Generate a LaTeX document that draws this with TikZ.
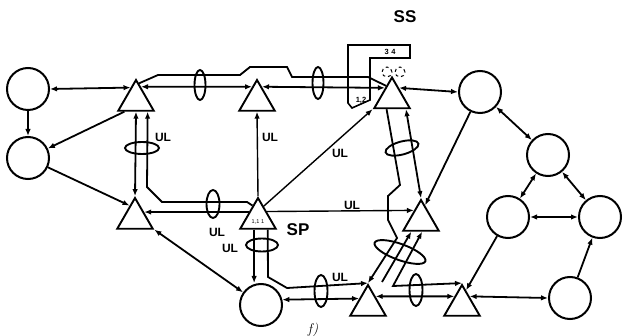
\documentclass[tikz,border=0pt]{standalone}
\usepackage{fontspec}
\setsansfont{Liberation Sans}
\usetikzlibrary{arrows.meta,calc,shapes.geometric}

\begin{document}
\begin{tikzpicture}[
    x=1pt, y=-1pt,
    >={Latex[length=7pt, width=5.5pt]},
    stn/.style={draw, circle, line width=2pt, minimum size=42pt, inner sep=0pt},
    sw/.style={draw, regular polygon, regular polygon sides=3, line width=1.9pt,
               minimum size=41pt, inner sep=0pt},
    ring/.style={draw, ellipse, line width=1.9pt, inner sep=0pt},
    ln/.style={line width=1.8pt},
    ul/.style={line width=1.4pt},
    lbl/.style={font=\sffamily\bfseries\fontsize{12}{12}\selectfont, inner sep=1pt},
    tag/.style={font=\sffamily\bfseries\fontsize{17}{17}\selectfont, inner sep=1pt},
    sml/.style={font=\sffamily\bfseries\fontsize{7.5}{7.5}\selectfont, inner sep=0pt}
  ]
  \useasboundingbox (0,0) rectangle (623,336);

  % --- Stations (circles) ---
  \node[stn] (c1) at (28,89) {};
  \node[stn] (c2) at (28,158) {};
  \node[stn] (c3) at (480,92) {};
  \node[stn] (c4) at (548,155) {};
  \node[stn] (c5) at (508,217) {};
  \node[stn] (c6) at (600,217) {};
  \node[stn] (c7) at (570,298) {};
  \node[stn] (c8) at (261,305) {};

  % --- Switches (triangles) ---
  \node[sw] (t1) at (136,100.5) {};
  \node[sw] (t2) at (257,100.5) {};
  \node[sw] (t3) at (392,98) {};
  \node[sw] (t4) at (135,218.5) {};
  \node[sw] (t5) at (258,218.5) {};
  \node[sw] (t6) at (421,220.5) {};
  \node[sw] (t7) at (368,305.5) {};
  \node[sw] (t8) at (462,305.5) {};

  % --- Rings ---
  \node[ring, minimum width=11pt, minimum height=30pt] (r1) at (200,85) {};
  \node[ring, minimum width=11pt, minimum height=32pt] (r2) at (318,83) {};
  \node[ring, minimum width=34pt, minimum height=12pt] (r3) at (142,148) {};
  \node[ring, minimum width=13pt, minimum height=28pt] (r4) at (213,204) {};
  \node[ring, minimum width=34pt, minimum height=13pt, rotate=15] (r5) at (402,148) {};
  \node[ring, minimum width=54pt, minimum height=16pt, rotate=-20] (r6) at (400,252) {};
  \node[ring, minimum width=32pt, minimum height=13pt] (r7) at (262,245) {};
  \node[ring, minimum width=13pt, minimum height=32pt] (r8) at (321,291) {};
  \node[ring, minimum width=13pt, minimum height=32pt] (r9) at (416,290) {};

  % --- SS frame ---
  \draw[line width=1.6pt] (348,45) -- (410,45) -- (410,58) -- (370,58) -- (370,100)
    -- (352,108) -- (348,103) -- cycle;
  \node[sml] (n34) at (390,51.5) {3\,\,4};
  \node[sml] (n12) at (361,100) {1,2};
  \node[draw, circle, dashed, line width=1pt, minimum size=10pt, inner sep=0pt] (d1) at (387,72) {};
  \node[draw, circle, dashed, line width=1pt, minimum size=10pt, inner sep=0pt] (d2) at (400,72) {};
  \node[font=\sffamily\fontsize{5.5}{5.5}\selectfont, inner sep=0pt] (n11) at (258,222) {1,1\,\,1};

  % --- Top row ---
  \draw[ln, <->] (c1.east) -- (t1.113);
  \draw[ln, ->] (c1) -- (c2);
  \draw[ln, ->] ($(t1.corner 2)!0.2!(t1.corner 3)$) -- (c2);
  \draw[ln, <->] (t1.70) -- (t2.110);
  \draw[ln] (t1.80) -- (158,75) -- (240,75) -- (250,67) -- (287,67) -- (292,77)
    -- (368,77) -- (t3.116);
  \draw[ln, <->] (t2.70) -- (t3.125);
  \draw[ln, <->] (t3.55) -- (c3.west);

  % --- Middle row ---
  \draw[ln, ->] (c2) -- (t4.113);
  \draw[ln, <->] (t1.south) -- (t4.north);
  \draw[ln, <-] ($(t1.corner 2)!0.8!(t1.corner 3)$) -- (147,187) -- (162,202)
    -- (247,202) -- (t5.113);
  \draw[ln, <-] (t4.35) -- (t5.145);
  \draw[ul, ->] (t5.north) -- (t2.south);
  \draw[ul, ->] (t5.65) -- (t3.corner 2);
  \draw[ul, ->] (t5.38) -- (t6.125);
  \draw[ln, <->] (t4.corner 3) -- (c8);

  % --- Bundle SS to lower switches ---
  \draw[ln, ->] ($(t3.corner 2)!0.36!(t3.corner 3)$) -- (400,185) -- (388,196)
    -- (388,220) -- (397,238) -- (t7.north);
  \draw[ln, <->] ($(t3.corner 2)!0.86!(t3.corner 3)$) -- (t6.north);
  \coordinate (b0) at (382,282);
  \draw[ln, ->] (b0) -- ($(t6.corner 2)!0.25!(t6.corner 3)$);
  \draw[ln, <->] ($(t6.corner 2)!0.53!(t6.corner 3)$) -- (393,286) -- (t8.north);
  \draw[ln, ->] (c3) -- (t6.75);

  % --- Bottom row ---
  \coordinate (v0) at ($(t5.corner 2)!0.4!(t5.corner 3)$);
  \draw[ln, ->] (v0) -- (v0 |- c8.north);
  \draw[ln, ->] ($(t5.corner 2)!0.75!(t5.corner 3)$) -- (268,277) -- (287,288)
    -- (t7.north);
  \draw[ln, <->] (c8.14) -- (t7.142);
  \draw[ln, <->] (t7.50) -- (t8.130);
  \draw[ln, <->] (t8.50) -- (c7.west);
  \draw[ln, ->] (c5) -- (t8.75);

  % --- Right cluster ---
  \draw[ln, <->] (c3) -- (c4);
  \draw[ln, <->] (c4) -- (c5);
  \draw[ln, <->] (c4) -- (c6);
  \draw[ln, <->] (c5) -- (c6);
  \draw[ln, ->] (c7) -- (c6);

  % --- Labels ---
  \node[tag] (ss) at (405,17) {SS};
  \node[tag] (sp) at (298,230) {SP};
  \node[lbl] (ul1) at (163,137) {UL};
  \node[lbl] (ul2) at (270,137) {UL};
  \node[lbl] (ul3) at (340,153) {UL};
  \node[lbl] (ul4) at (352,205) {UL};
  \node[lbl] (ul5) at (217,232) {UL};
  \node[lbl] (ul6) at (230,248) {UL};
  \node[lbl] (ul7) at (340,277) {UL};
  \node[font=\itshape\fontsize{14}{14}\selectfont] (fig) at (313,330) {f)};
\end{tikzpicture}
\end{document}
